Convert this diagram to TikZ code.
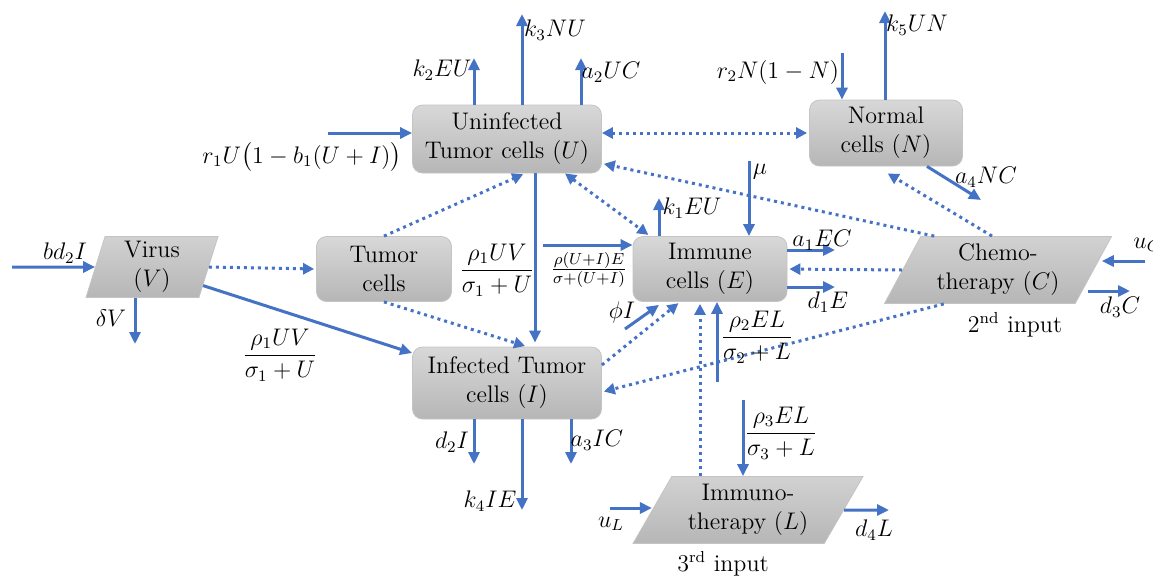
\documentclass[tikz,border=0pt]{standalone}
\usepackage{amsmath}
\usetikzlibrary{arrows.meta,positioning,shapes.geometric}
\definecolor{FlowBlue}{RGB}{68,114,196}
\definecolor{CellTop}{RGB}{216,216,216}
\definecolor{CellBottom}{RGB}{182,182,182}
\definecolor{CellLine}{RGB}{196,196,196}
\definecolor{DrugFill}{RGB}{198,198,198}
\tikzset{
  cell/.style={draw=CellLine, rounded corners=5pt, top color=CellTop,
    bottom color=CellBottom, align=center, inner sep=2pt},
  therapy/.style={trapezium, trapezium stretches body, draw=CellLine,
    top color=DrugFill!80!white, bottom color=DrugFill!92!black,
    align=center, inner sep=1pt},
  flow/.style={-{Triangle[length=6pt,width=5.5pt]}, line width=1.5pt, FlowBlue},
  dotflow/.style={-{Triangle[length=5.5pt,width=5.5pt]}, line width=1.5pt,
    FlowBlue, dash pattern=on 1.5pt off 2pt, shorten >=1pt},
  dotboth/.style={dotflow, {Triangle[length=5.5pt,width=5.5pt]}-{Triangle[length=5.5pt,width=5.5pt]}},
  rate/.style={inner sep=1pt}
}
\begin{document}
\begin{tikzpicture}[x=0.5pt, y=-0.5pt, font=\fontsize{12}{14.5}\selectfont]
  \useasboundingbox (0,0) rectangle (1153,575);
  % compartments
  \node[cell, minimum width=94.5pt, minimum height=34pt] (U) at (507,139) {Uninfected\\Tumor cells $(U)$};
  \node[cell, minimum width=76.5pt, minimum height=33pt] (N) at (886,133) {Normal\\cells $(N)$};
  \node[cell, minimum width=67.5pt, minimum height=32.5pt] (T) at (384,269) {Tumor\\cells};
  \node[cell, minimum width=77pt, minimum height=32.5pt] (E) at (710,269) {Immune\\cells $(E)$};
  \node[cell, minimum width=94.5pt, minimum height=36pt] (I) at (507,383) {Infected Tumor\\cells $(I)$};
  \node[therapy, trapezium left angle=71, trapezium right angle=109,
    minimum width=66pt, minimum height=30.5pt] (V) at (152,267) {Virus\\$(V)$};
  \node[therapy, trapezium left angle=57, trapezium right angle=123,
    minimum width=113.5pt, minimum height=33.5pt] (C) at (998,270) {Chemo-\\therapy $(C)$};
  \node[therapy, trapezium left angle=55, trapezium right angle=125,
    minimum width=115pt, minimum height=33.5pt] (L) at (748,510) {Immuno-\\therapy $(L)$};

  % free ends of the rate arrows
  \coordinate (inU) at (328,133);
  \coordinate (outkEU) at (474,58);
  \coordinate (outkNU) at (522,14);
  \coordinate (outaUC) at (581,58);
  \coordinate (inE) at (543,245);
  \coordinate (outkE) at (659,198);
  \coordinate (inmu) at (749,161);
  \coordinate (inphi) at (625,329);
  \coordinate (inrho2) at (717,382);
  \coordinate (outaEC) at (835,250);
  \coordinate (outdE) at (835,287);
  \coordinate (inV) at (12,267);
  \coordinate (outdV) at (135,344);
  \coordinate (inN) at (842,53);
  \coordinate (outkUN) at (885,11);
  \coordinate (outaNC) at (981,200);
  \coordinate (inC) at (1145,261);
  \coordinate (outdC) at (1130,291);
  \coordinate (outdI) at (474,464);
  \coordinate (outkIE) at (522,510);
  \coordinate (outaIC) at (571,464);
  \coordinate (inrho3) at (743,400);
  \coordinate (inL) at (610,508);
  \coordinate (outdL) at (889,510);

  % solid flows
  \draw[flow] (inU) -- (U.west |- inU);
  \draw[flow] (U.north -| outkEU) -- (outkEU);
  \draw[flow] (U.north -| outkNU) -- (outkNU);
  \draw[flow] (U.north -| outaUC) -- (outaUC);
  \draw[flow] ([xshift=14pt]U.south) -- ([xshift=14pt,yshift=2pt]I.north);
  \draw[flow] (inE) -- (E.west |- inE);
  \draw[flow] (E.north -| outkE) -- (outkE);
  \draw[flow] (inmu) -- (E.north -| inmu);
  \draw[flow] (inphi) -- ([xshift=-25.5pt,yshift=-1.5pt]E.south);
  \draw[flow] (inrho2) -- (E.south -| inrho2);
  \draw[flow] (E.east |- outaEC) -- (outaEC);
  \draw[flow] (E.east |- outdE) -- (outdE);
  \draw[flow] (V.-20) -- ([yshift=15pt]I.west);
  \draw[flow] (inV) -- (V.west);
  \draw[flow] (V.south -| outdV) -- (outdV);
  \draw[flow] (inN) -- (N.north -| inN);
  \draw[flow] (N.north -| outkUN) -- (outkUN);
  \draw[flow] ([xshift=20.5pt]N.south) -- (outaNC);
  \draw[flow] (inC) -- ([xshift=4pt]C.east |- inC);
  \draw[flow] ([xshift=-3pt]C.east |- outdC) -- (outdC);
  \draw[flow] (I.south -| outdI) -- (outdI);
  \draw[flow] (I.south -| outkIE) -- (outkIE);
  \draw[flow] (I.south -| outaIC) -- (outaIC);
  \draw[flow] (inrho3) -- (L.north -| inrho3);
  \draw[flow] (inL) -- (L.west |- inL);
  \draw[flow] (L.east) -- (outdL);

  % dotted interactions
  \draw[dotboth] (U.east |- N.west) -- (N.west);
  \draw[dotflow] (C.152) -- ([yshift=5pt]U.south east);
  \draw[dotflow] ([xshift=-3pt]C.north) -- ([yshift=-3pt]N.south);
  \draw[dotflow] (C.west) -- (E.east);
  \draw[dotflow] (C.212) -- ([yshift=-4.5pt]I.east);
  \draw[dotboth] ([xshift=29pt]U.south) -- ([xshift=-30pt]E.north);
  \draw[dotflow] (T.north) -- ([xshift=9pt]U.south);
  \draw[dotflow] (T.south) -- ([xshift=10pt]I.north);
  \draw[dotflow] (V.east) -- (T.west);
  \draw[dotflow] ([yshift=9pt]I.east) -- ([xshift=-15pt]E.south);
  \draw[dotflow] ([xshift=-24pt]L.north) -- ([xshift=-24pt]L.north |- E.south);

  % rates
  \node[rate] (lrU) at (302,157) {$r_1U\bigl(1-b_1(U+I)\bigr)$};
  \node[rate] (lkEU) at (442,70) {$k_2EU$};
  \node[rate] (lkNU) at (555,30) {$k_3NU$};
  \node[rate] (laUC) at (611,72) {$a_2UC$};
  \node[rate] (lrhoU) at (497,270) {$\dfrac{\rho_1UV}{\sigma_1+U}$};
  \node[rate] (lrhoE) at (589,270) {$\frac{\rho(U+I)E}{\sigma+(U+I)}$};
  \node[rate] (lkE) at (692,208) {$k_1EU$};
  \node[rate] (lmu) at (760,172) {$\mu$};
  \node[rate] (lphi) at (622,312) {$\phi I$};
  \node[rate] (lrho2) at (757,337) {$\dfrac{\rho_2EL}{\sigma_2+L}$};
  \node[rate] (laEC) at (822,240) {$a_1EC$};
  \node[rate] (ldE) at (828,302) {$d_1E$};
  \node[rate] (lrhoV) at (280,355) {$\dfrac{\rho_1UV}{\sigma_1+U}$};
  \node[rate] (lbd) at (65,253) {$bd_2I$};
  \node[rate] (ldV) at (111,318) {$\delta V$};
  \node[rate] (lrN) at (778,72) {$r_2N(1-N)$};
  \node[rate] (lkUN) at (917,25) {$k_5UN$};
  \node[rate] (laNC) at (986,177) {$a_4NC$};
  \node[rate, anchor=west] (luC) at (1131,245) {$u_C$};
  \node[rate] (ldC) at (1120,307) {$d_3C$};
  \node (lC) at (1015,325) {2\textsuperscript{nd} input};
  \node[rate] (ldI) at (452,442) {$d_2I$};
  \node[rate] (lkIE) at (490,501) {$k_4IE$};
  \node[rate] (laIC) at (597,440) {$a_3IC$};
  \node[rate] (lrho3) at (781,433) {$\dfrac{\rho_3EL}{\sigma_3+L}$};
  \node[rate] (luL) at (611,524) {$u_L$};
  \node[rate] (ldL) at (874,530) {$d_4L$};
  \node (lL) at (723,564) {3\textsuperscript{rd} input};
\end{tikzpicture}
\end{document}
